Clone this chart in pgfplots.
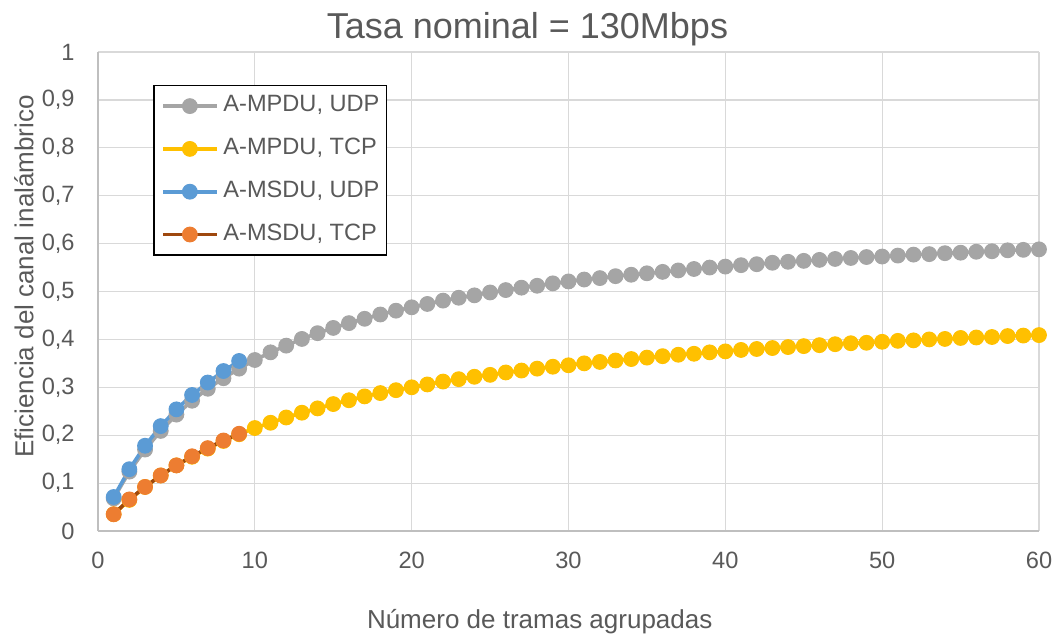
\documentclass[border=0pt]{standalone}
\usepackage{pgfplots}
\pgfplotsset{compat=1.18}
\usepackage{fontspec}
\setmainfont{Liberation Sans}

\definecolor{txtgray}{HTML}{595959}
\definecolor{gridgray}{HTML}{D9D9D9}
\definecolor{axisgray}{HTML}{BFBFBF}
\definecolor{mpduudp}{HTML}{A5A5A5}
\definecolor{mpdutcp}{HTML}{FFC000}
\definecolor{msduudp}{HTML}{5B9BD5}
\definecolor{msdutcp}{HTML}{ED7D31}
\definecolor{msdutcpline}{HTML}{9E480E}

\begin{document}
\begin{tikzpicture}
\begin{axis}[
  scale only axis,
  width=470.5pt, height=239.5pt,
  xmin=0, xmax=60, ymin=0, ymax=1,
  xtick={0,10,...,60},
  ytick={0,0.1,...,1.0},
  major tick length=0pt,
  axis x line*=bottom, axis y line*=left,
  axis line style={-, draw=axisgray, line width=0.7pt},
  grid=major,
  major grid style={draw=gridgray, line width=0.6pt},
  clip=false,
  tick label style={font=\fontsize{11.8}{14}\selectfont, text=txtgray},
  /pgf/number format/assume math mode=true,
  /pgf/number format/use comma,
  yticklabel style={/pgf/number format/fixed, /pgf/number format/precision=1},
  yticklabel style={anchor=east, inner sep=0pt, xshift=-11.5pt},
  xticklabel style={anchor=north, inner sep=0pt, yshift=-10.5pt},
  every axis title shift=0pt,
  title={Tasa nominal = 130Mbps},
  title style={font=\fontsize{18}{21}\selectfont, text=txtgray,
    at={(axis description cs:0.4564,1.0286)}, anchor=base, inner sep=0pt},
  xlabel={Número de tramas agrupadas},
  xlabel style={font=\fontsize{13}{15}\selectfont, text=txtgray,
    at={(axis description cs:0.4694,-0.2031)}, anchor=base, inner sep=0pt},
  ylabel={Eficiencia del canal inalámbrico},
  ylabel style={font=\fontsize{13}{15}\selectfont, text=txtgray,
    at={(axis description cs:-0.0688,0.5313)}, anchor=base, rotate=0, inner sep=0pt},
  every axis plot/.append style={line width=1.8pt},
  mark size=3.7pt,
  legend cell align=left,
  legend style={
    at={(rel axis cs:0.0588,0.9311)}, anchor=north west,
    draw=black, line width=0.6pt, fill=white,
    font=\fontsize{11.8}{14}\selectfont, text=txtgray,
    inner xsep=3.7pt, inner ysep=5.5pt,
    row sep=11.9pt, column sep=2.5pt,
    nodes={inner sep=0pt, text height=0.75em, text depth=0.2em},
  },
  legend image code/.code={
    \draw[mark repeat=2, mark phase=2, #1]
      plot coordinates {(0cm,0cm) (0.47cm,0cm) (0.94cm,0cm)};
  },
]

% A-MPDU, UDP
\addplot[color=mpduudp, mark=*, mark options={fill=mpduudp, draw=mpduudp, line width=0.5pt}]
coordinates {
(1,0.068) (2,0.124) (3,0.170) (4,0.209) (5,0.243) (6,0.272) (7,0.297) (8,0.319) (9,0.339) (10,0.357)
(11,0.373) (12,0.387) (13,0.401) (14,0.413) (15,0.424) (16,0.434) (17,0.443) (18,0.452) (19,0.460) (20,0.467)
(21,0.474) (22,0.481) (23,0.487) (24,0.492) (25,0.498) (26,0.503) (27,0.508) (28,0.512) (29,0.517) (30,0.521)
(31,0.525) (32,0.528) (33,0.532) (34,0.535) (35,0.538) (36,0.541) (37,0.544) (38,0.547) (39,0.550) (40,0.552)
(41,0.555) (42,0.557) (43,0.560) (44,0.562) (45,0.564) (46,0.566) (47,0.568) (48,0.570) (49,0.572) (50,0.573)
(51,0.575) (52,0.577) (53,0.578) (54,0.580) (55,0.581) (56,0.583) (57,0.584) (58,0.586) (59,0.587) (60,0.588)
};
\addlegendentry{A-MPDU, UDP}

% A-MPDU, TCP
\addplot[color=mpdutcp, mark=*, mark options={fill=mpdutcp, draw=mpdutcp, line width=0.5pt}]
coordinates {
(1,0.035) (2,0.065) (3,0.092) (4,0.116) (5,0.137) (6,0.155) (7,0.172) (8,0.188) (9,0.202) (10,0.215)
(11,0.226) (12,0.237) (13,0.247) (14,0.256) (15,0.265) (16,0.273) (17,0.281) (18,0.288) (19,0.294) (20,0.300)
(21,0.306) (22,0.312) (23,0.317) (24,0.322) (25,0.326) (26,0.331) (27,0.335) (28,0.339) (29,0.343) (30,0.346)
(31,0.350) (32,0.353) (33,0.356) (34,0.359) (35,0.362) (36,0.365) (37,0.368) (38,0.370) (39,0.373) (40,0.375)
(41,0.378) (42,0.380) (43,0.382) (44,0.384) (45,0.386) (46,0.388) (47,0.390) (48,0.392) (49,0.393) (50,0.395)
(51,0.397) (52,0.398) (53,0.400) (54,0.401) (55,0.403) (56,0.404) (57,0.405) (58,0.407) (59,0.408) (60,0.409)
};
\addlegendentry{A-MPDU, TCP}

% A-MSDU, UDP
\addplot[color=msduudp, mark=*, mark options={fill=msduudp, draw=msduudp, line width=0.5pt}]
coordinates {
(1,0.071) (2,0.129) (3,0.178) (4,0.219) (5,0.254) (6,0.284) (7,0.310) (8,0.334) (9,0.355)
};
\addlegendentry{A-MSDU, UDP}

% A-MSDU, TCP
\addplot[color=msdutcpline, mark=*, mark options={fill=msdutcp, draw=msdutcp, line width=0.5pt}]
coordinates {
(1,0.035) (2,0.066) (3,0.092) (4,0.116) (5,0.137) (6,0.156) (7,0.173) (8,0.189) (9,0.203)
};
\addlegendentry{A-MSDU, TCP}

% page frame of the whole chart
\coordinate (bbsw) at (rel axis cs:-0.10414,-0.21294);
\coordinate (bbne) at (rel axis cs:1.02125,1.10856);
\end{axis}
\pgfresetboundingbox
\path[use as bounding box] (bbsw) rectangle (bbne);
\end{tikzpicture}
\end{document}
